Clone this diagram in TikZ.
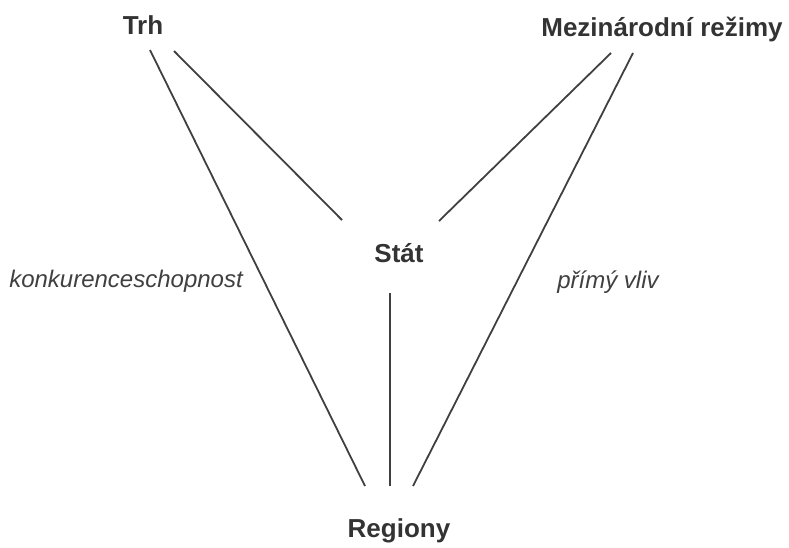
\documentclass[tikz,border=0pt]{standalone}
\usepackage{fontspec}
\setmainfont{Liberation Sans}
\begin{document}
\begin{tikzpicture}[x=1pt,y=-1pt,
  concept/.style={font=\fontsize{26}{30}\selectfont\bfseries, text=black!80, inner sep=0pt, anchor=base},
  relabel/.style={font=\fontsize{24}{28}\selectfont\itshape, text=black!75, inner sep=0pt, anchor=base},
  link/.style={draw=black!75, line width=1.8pt}]
\useasboundingbox (0,0) rectangle (789,547);
\node[concept] (trh) at (143,34) {Trh};
\node[concept] (mez) at (662,36) {Mezinárodní režimy};
\node[concept] (stat) at (399,262) {Stát};
\node[concept] (reg) at (399,537) {Regiony};
\node[relabel] (konk) at (126,287) {konkurenceschopnost};
\node[relabel] (vliv) at (608,288) {přímý vliv};
% connector end points
\coordinate (trhA) at (150,50);
\coordinate (trhB) at (174,51);
\coordinate (mezA) at (611,53);
\coordinate (mezB) at (633,53);
\coordinate (statTL) at (342,220);
\coordinate (statTR) at (439,221);
\coordinate (statB) at (390,293);
\coordinate (regL) at (365,486);
\coordinate (regM) at (390,486);
\coordinate (regR) at (413,486);
\draw[link] (trhA) -- (regL);
\draw[link] (trhB) -- (statTL);
\draw[link] (mezA) -- (statTR);
\draw[link] (mezB) -- (regR);
\draw[link] (statB) -- (regM);
\end{tikzpicture}
\end{document}
